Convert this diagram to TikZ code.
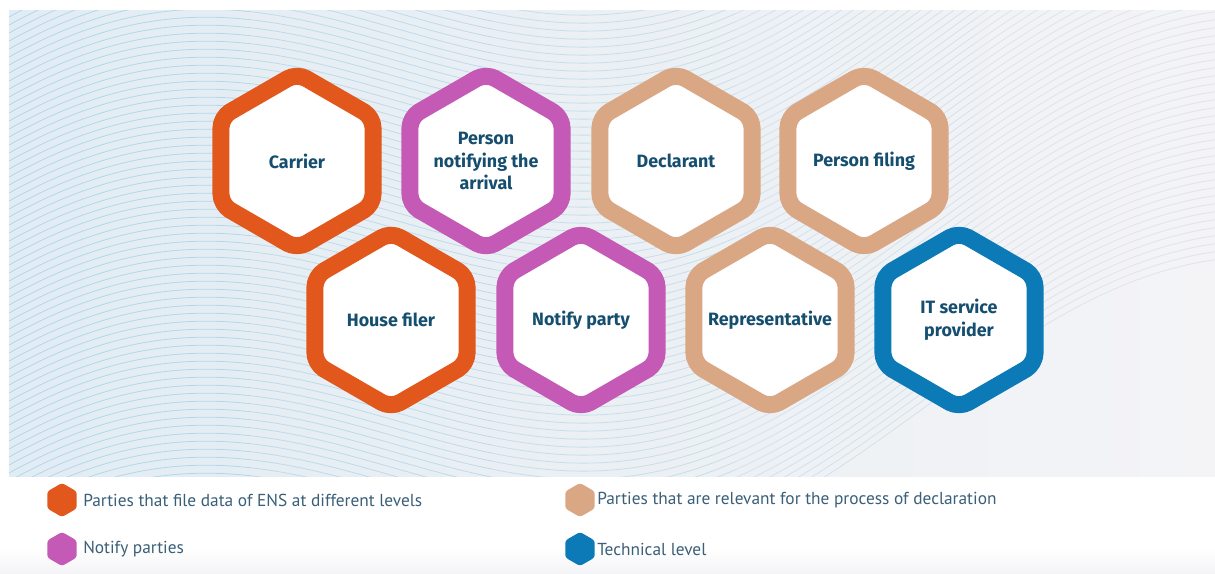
\documentclass[tikz,border=0pt]{standalone}
\usepackage{fontspec}
\setmainfont{Fira Sans}
\newfontfamily\legendfont{PT Sans}
\usetikzlibrary{shapes.geometric}
\definecolor{orangeC}{HTML}{E2571B}
\definecolor{magentaC}{HTML}{C55AB6}
\definecolor{tanC}{HTML}{D9A783}
\definecolor{blueC}{HTML}{0B7AB6}
\definecolor{hexText}{HTML}{154E6E}
\definecolor{legText}{HTML}{3A5F78}
\definecolor{panelL}{HTML}{E2ECF4}
\definecolor{panelM}{HTML}{EBF0F4}
\definecolor{panelR}{HTML}{F4F4F7}
\definecolor{waveA}{HTML}{AFD9EA}
\definecolor{waveB}{HTML}{E4E4EB}
\tikzset{
  hexbox/.style={regular polygon, regular polygon sides=6, shape border rotate=30,
    minimum size=131.7pt, inner sep=0pt, line width=12.75pt, draw=#1, fill=white,
    rounded corners=8pt, line join=round},
  hextext/.style={align=center, text=hexText, inner sep=0pt,
    font=\fontsize{13.4pt}{17.2pt}\selectfont\bfseries},
  leghex/.style={regular polygon, regular polygon sides=6, shape border rotate=30,
    minimum size=25.5pt, inner sep=0pt, fill=#1, draw=none, rounded corners=2pt},
  legtext/.style={anchor=west, inner sep=0pt, text=legText,
    font=\legendfont\fontsize{13pt}{15pt}\selectfont},
  wave/.style={line width=0.6pt}
}
\begin{document}
\begin{tikzpicture}[x=0.75pt,y=-0.75pt]
\useasboundingbox (0,0) rectangle (1215,574);
\fill[white] (0,0) rectangle (1215,574);
% background panel
\shade[left color=panelL, right color=panelR, middle color=panelM] (9,11) rectangle (1215,476);
\begin{scope}
  \clip (9,11) rectangle (1215,476);
  \foreach \k in {-50,...,75} {
    \foreach \s in {0,...,4} {
      \pgfmathsetmacro\xa{9+\s*242}
      \pgfmathsetmacro\xb{9+(\s+1)*242}
      \pgfmathtruncatemacro\mix{100-23*\s}
      \draw[wave, color=waveA!\mix!waveB] plot[domain=\xa:\xb, samples=16, smooth]
        (\x, {11 + 8*\k - 85*cos(0.34*(\x-130)) - 0.22*\x});
    }
  }
\end{scope}
% bottom soft band
\shade[top color=white, bottom color=panelR] (0,548) rectangle (1215,574);
% hexagons row 1
\node[hexbox=orangeC]  (carrier)   at (297,161) {};
\node[hexbox=magentaC] (notifying) at (486,161) {};
\node[hexbox=tanC]     (declarant) at (676,161) {};
\node[hexbox=tanC]     (filing)    at (864,161) {};
% hexagons row 2
\node[hexbox=orangeC]  (house)     at (391,320) {};
\node[hexbox=magentaC] (notify)    at (581,320) {};
\node[hexbox=tanC]     (repr)      at (770,320) {};
\node[hexbox=blueC]    (its)       at (959,320) {};
% labels
\node[hextext] (t-carrier)   at (carrier)   {Carrier};
\node[hextext] (t-notifying) at (notifying) {Person\\notifying the\\arrival};
\node[hextext] (t-declarant) at (declarant) {Declarant};
\node[hextext] (t-filing)    at (filing)    {Person filing};
\node[hextext] (t-house)     at (house)     {House filer};
\node[hextext] (t-notify)    at (notify)    {Notify party};
\node[hextext] (t-repr)      at (repr)      {Representative};
\node[hextext] (t-its)       at (its)       {IT service\\provider};
% legend
\node[leghex=orangeC]  (lg1) at (62,500) {};
\node[legtext] (lt1) at (83,500) {Parties that file data of ENS at different levels};
\node[leghex=magentaC] (lg2) at (62,549) {};
\node[legtext] (lt2) at (83,549) {Notify parties};
\node[leghex=tanC]     (lg3) at (580,500) {};
\node[legtext] (lt3) at (597,500) {Parties that are relevant for the process of declaration};
\node[leghex=blueC]    (lg4) at (580,549) {};
\node[legtext] (lt4) at (597,549) {Technical level};
\end{tikzpicture}
\end{document}
